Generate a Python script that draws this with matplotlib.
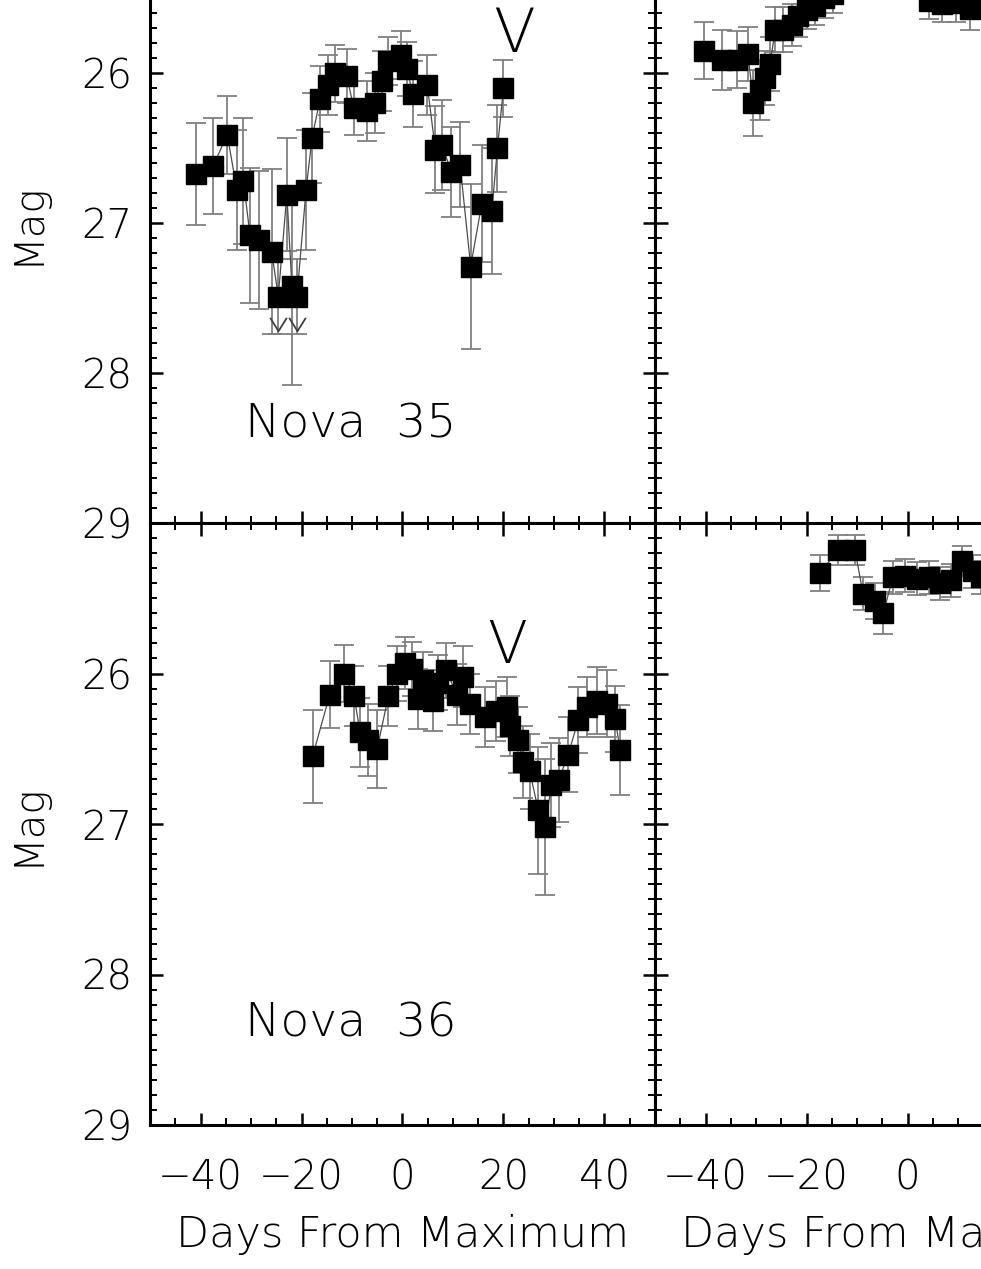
import matplotlib
matplotlib.use("Agg")
import matplotlib.pyplot as plt
from matplotlib.path import Path
from matplotlib.ticker import MultipleLocator
import numpy as np

# ---------------- data ----------------
# Nova 35 (top-left)
n35_days = [-40.9, -37.5, -34.7, -32.8, -31.5, -30.2, -28.5, -25.9, -24.6, -22.9,
            -21.9, -20.9, -19.1, -17.9, -16.3, -14.8, -13.4, -11.0, -9.7, -7.1,
            -5.5, -4.1, -2.8, -0.2, 0.8, 2.1, 4.9, 6.5, 7.8, 9.7,
            11.4, 13.5, 15.7, 17.7, 18.8, 20.0]
n35_mag = [26.67, 26.62, 26.41, 26.78, 26.72, 27.08, 27.11, 27.19, 27.49, 26.81,
           27.42, 27.49, 26.78, 26.43, 26.17, 26.08, 26.00, 26.02, 26.23, 26.25,
           26.20, 26.05, 25.92, 25.88, 25.97, 26.14, 26.08, 26.51, 26.48, 26.66,
           26.61, 27.29, 26.87, 26.92, 26.50, 26.10]
n35_err = [0.34, 0.32, 0.26, 0.40, 0.42, 0.45, 0.46, 0.55, 0.25, 0.38,
           0.66, 0.25, 0.40, 0.30, 0.22, 0.20, 0.19, 0.18, 0.18, 0.20,
           0.20, 0.20, 0.16, 0.16, 0.18, 0.22, 0.20, 0.29, 0.30, 0.30,
           0.28, 0.55, 0.39, 0.42, 0.29, 0.19]
n35_is_limit = [False] * 8 + [True, False, False, True] + [False] * 24

# Nova 36 (bottom-left)
n36_days = [-17.8, -14.4, -11.6, -9.6, -8.4, -6.8, -5.0, -2.8, -1.1, 0.5,
            1.8, 3.1, 4.1, 6.1, 7.1, 8.7, 10.7, 12.0, 13.4, 16.3,
            18.6, 20.6, 21.3, 22.9, 23.9, 25.2, 26.9, 28.2, 29.5, 30.9,
            32.8, 34.8, 36.5, 38.5, 40.4, 42.1, 43.1]
n36_mag = [26.55, 26.14, 26.00, 26.15, 26.39, 26.44, 26.50, 26.15, 26.00, 25.93,
           25.97, 26.17, 26.04, 26.18, 26.06, 25.98, 26.14, 26.02, 26.20, 26.29,
           26.25, 26.22, 26.35, 26.44, 26.59, 26.65, 26.91, 27.02, 26.74, 26.71,
           26.54, 26.31, 26.22, 26.18, 26.20, 26.30, 26.51]
n36_err = [0.31, 0.22, 0.19, 0.20, 0.23, 0.24, 0.26, 0.20, 0.18, 0.17,
           0.18, 0.20, 0.18, 0.20, 0.18, 0.18, 0.20, 0.20, 0.20, 0.20,
           0.20, 0.20, 0.20, 0.22, 0.24, 0.25, 0.42, 0.45, 0.28, 0.28,
           0.25, 0.22, 0.20, 0.22, 0.22, 0.22, 0.30]

# top-right panel (cropped)
rt_days = [-40.2, -36.8, -33.8, -31.6, -30.5, -29.2, -28.2, -27.2, -26.2, -24.6,
           -22.9, -21.6, -20.0, -18.3, -16.6, -14.8, 4.3, 6.8, 9.6, 12.3]
rt_mag = [25.85, 25.91, 25.91, 25.87, 26.20, 26.11, 26.03, 25.94, 25.71, 25.71,
          25.68, 25.62, 25.58, 25.55, 25.50, 25.47, 25.52, 25.54, 25.53, 25.57]
rt_err = [0.19, 0.20, 0.19, 0.18, 0.22, 0.20, 0.18, 0.18, 0.15, 0.15,
          0.14, 0.14, 0.13, 0.13, 0.13, 0.13, 0.12, 0.12, 0.13, 0.14]
rt_groups = [16, 4]

# bottom-right panel (cropped)
rb_days = [-17.3, -13.7, -10.4, -8.8, -6.5, -4.8, -2.9, -0.5, 1.8, 4.2,
           6.4, 8.6, 10.7, 12.9, 14.6]
rb_mag = [25.33, 25.18, 25.18, 25.47, 25.52, 25.60, 25.36, 25.35, 25.37, 25.36,
          25.40, 25.38, 25.25, 25.32, 25.36]
rb_err = [0.12, 0.10, 0.10, 0.11, 0.12, 0.14, 0.11, 0.11, 0.11, 0.11,
          0.11, 0.11, 0.10, 0.11, 0.11]

ytick_vals = [26, 27, 28, 29]
xlabel_text = "Days From Maximum"
ylabel_text = "Mag"
label_35 = "Nova  35"
label_36 = "Nova  36"

# ---------------- style ----------------
plt.rcParams["font.family"] = ["DejaVu Sans"]
plt.rcParams["font.weight"] = "light"
plt.rcParams["axes.labelweight"] = "light"
FS = 29

W, H = 981, 1269
fig = plt.figure(figsize=(W / 100, H / 100), dpi=100)


def add_ax(x0, ytop, w, h):
    return fig.add_axes([x0 / W, (H - (ytop + h)) / H, w / W, h / H])


ax_tl = add_ax(150, -77, 505, 600)
ax_bl = add_ax(150, 523, 505, 602)
ax_tr = add_ax(655, -77, 505, 600)
ax_br = add_ax(655, 523, 505, 602)

chevron = Path([(-0.5, 0.4), (0.0, -0.4), (0.5, 0.4)],
               [Path.MOVETO, Path.LINETO, Path.LINETO])


def style(ax, xlabels, ylabels):
    ax.set_xlim(-50, 50)
    ax.set_ylim(29, 25)
    ax.xaxis.set_major_locator(MultipleLocator(20))
    ax.xaxis.set_minor_locator(MultipleLocator(5))
    ax.set_yticks(ytick_vals)
    ax.yaxis.set_minor_locator(MultipleLocator(0.1))
    ax.tick_params(which="both", direction="in", top=True, right=True,
                   labelsize=FS, colors="black")
    ax.tick_params(which="major", length=9, width=1.8)
    ax.tick_params(which="minor", length=5, width=1.4)
    ax.tick_params(axis="x", pad=24)
    ax.tick_params(axis="y", pad=13)
    ax.tick_params(labelbottom=xlabels, labelleft=ylabels)
    for sp in ax.spines.values():
        sp.set_linewidth(2.2)
    if xlabels:
        ax.set_xlabel(xlabel_text, fontsize=31, fontweight="light")
        ax.xaxis.set_label_coords(0.5, -0.148)
    if ylabels:
        ax.set_ylabel(ylabel_text, fontsize=FS, fontweight="light")
        ax.yaxis.set_label_coords(-0.205, 0.5)


def draw(ax, d, m, e, groups=None):
    d = np.asarray(d); m = np.asarray(m); e = np.asarray(e)
    ax.errorbar(d, m, yerr=e, fmt="none", ecolor="0.5", elinewidth=1.3,
                capsize=7, capthick=1.3, zorder=2)
    if groups is None:
        groups = [len(d)]
    start = 0
    for g in groups:
        ax.plot(d[start:start + g], m[start:start + g], "-", color="0.3",
                lw=0.9, zorder=3)
        start += g
    ax.plot(d, m, "s", ms=14, mfc="black", mec="black", mew=1, ls="none",
            zorder=4)


style(ax_tl, False, True)
style(ax_bl, True, True)
style(ax_tr, False, False)
style(ax_br, True, False)

draw(ax_tl, n35_days, n35_mag, n35_err)
lim = np.asarray(n35_is_limit)
ax_tl.plot(np.asarray(n35_days)[lim], np.asarray(n35_mag)[lim] + 0.18,
           marker=chevron, ms=12, mfc="none", mec="0.25", mew=1.3, ls="none",
           zorder=5)
draw(ax_bl, n36_days, n36_mag, n36_err)
draw(ax_tr, rt_days, rt_mag, rt_err, rt_groups)
draw(ax_br, rb_days, rb_mag, rb_err)

ax_tl.text(-31.2, 28.43, label_35, fontsize=34, ha="left", va="baseline")
ax_bl.text(-31.2, 28.41, label_36, fontsize=34, ha="left", va="baseline")
ax_tl.text(22.0, 25.86, "V", fontsize=44, ha="center", va="baseline")
ax_bl.text(20.8, 25.93, "V", fontsize=42, ha="center", va="baseline")

fig.savefig("out.png", dpi=100, facecolor="white")
